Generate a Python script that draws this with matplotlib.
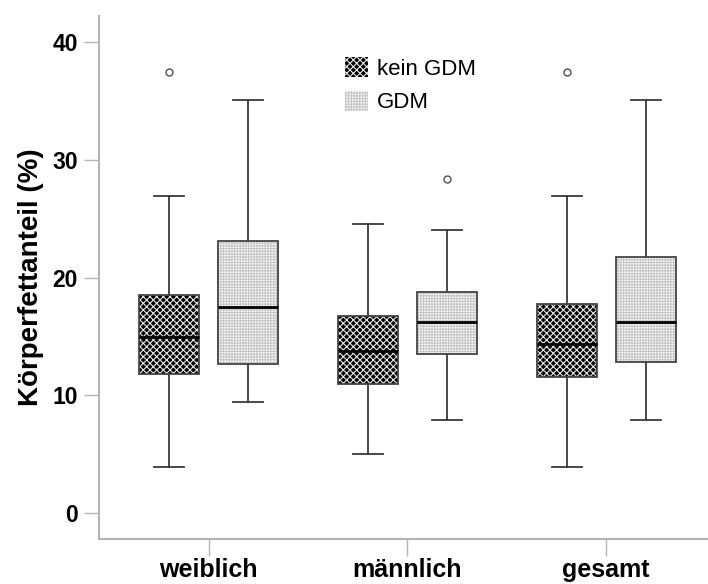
import matplotlib
matplotlib.use("Agg")
import matplotlib.pyplot as plt
from matplotlib.patches import Patch, PathPatch

plt.rcParams['font.family'] = ['Liberation Sans', 'DejaVu Sans']
plt.rcParams['hatch.linewidth'] = 0.8

# --- data ---
groups = ["weiblich", "männlich", "gesamt"]
series = ["kein GDM", "GDM"]

kein_lo = [3.9, 5.0, 3.9]
kein_q1 = [11.85, 11.0, 11.57]
kein_med = [14.97, 13.75, 14.4]
kein_q3 = [18.5, 16.73, 17.8]
kein_hi = [26.93, 24.6, 26.93]
kein_out = [[37.5], [], [37.5]]

gdm_lo = [9.41, 7.94, 7.94]
gdm_q1 = [12.62, 13.55, 12.79]
gdm_med = [17.47, 16.19, 16.22]
gdm_q3 = [23.1, 18.8, 21.77]
gdm_hi = [35.09, 24.07, 35.09]
gdm_out = [[], [28.4], []]

W, H = 708, 584
fig = plt.figure(figsize=(W / 100, H / 100), dpi=100)
ax = fig.add_axes([98.7 / W, 1 - 538.7 / H, (W - 98.7) / W, (538.7 - 16) / H])


def stats(lo, q1, med, q3, hi, out):
    res = []
    for i in range(len(lo)):
        res.append(dict(whislo=lo[i], q1=q1[i], med=med[i], q3=q3[i],
                        whishi=hi[i], fliers=out[i]))
    return res


offset = 0.199
bw = 0.302
styles = [
    dict(face="#000000", hatch="xxxxx", hcol="#e8e8e8"),
    dict(face="white", hatch="++++++", hcol="#c6c6c6"),
]
data = [stats(kein_lo, kein_q1, kein_med, kein_q3, kein_hi, kein_out),
        stats(gdm_lo, gdm_q1, gdm_med, gdm_q3, gdm_hi, gdm_out)]

for k in range(2):
    pos = [i + (-offset if k == 0 else offset) for i in range(len(groups))]
    bp = ax.bxp(data[k], positions=pos, widths=bw, patch_artist=True,
                showfliers=True, capwidths=bw / 2,
                medianprops=dict(color="black", lw=2.0),
                whiskerprops=dict(color="#3a3a3a", lw=1.3),
                capprops=dict(color="#3a3a3a", lw=1.3),
                flierprops=dict(marker="o", markersize=5, markerfacecolor="white",
                                markeredgecolor="#505050", markeredgewidth=1.0))
    for box in bp["boxes"]:
        box.set_facecolor(styles[k]["face"])
        box.set_edgecolor(styles[k]["hcol"])
        box.set_hatch(styles[k]["hatch"])
        box.set_linewidth(0)
        ax.add_patch(PathPatch(box.get_path(), fill=False, edgecolor="#444444",
                               lw=1.3, zorder=box.get_zorder() + 0.1))
    for m in bp["medians"]:
        m.set_zorder(5)

ax.set_xlim(-0.554, 2.513)
ax.set_ylim(-2.19, 42.24)
ax.set_yticks([0, 10, 20, 30, 40])
ax.set_xticks(range(len(groups)))
ax.set_xticklabels(groups, fontsize=18, fontweight="bold")
for t in ax.get_yticklabels():
    t.set_fontsize(16.5)
    t.set_fontweight("bold")
ax.tick_params(axis="y", length=11, width=1.0, color="#b4b4b4", pad=4)
ax.tick_params(axis="x", length=12, width=1.0, color="#b4b4b4", pad=2)
for s in ["top", "right"]:
    ax.spines[s].set_visible(False)
for s in ["left", "bottom"]:
    ax.spines[s].set_color("#b4b4b4")
    ax.spines[s].set_linewidth(1.5)

ax.set_ylabel("Körperfettanteil (%)", fontsize=20, fontweight="bold", labelpad=6)

handles = [Patch(facecolor=styles[k]["face"], edgecolor=styles[k]["hcol"],
                 hatch=styles[k]["hatch"], lw=0) for k in range(2)]
leg = fig.legend(handles, series, loc="upper left",
                 bbox_to_anchor=(345 / W, 1 - 57 / H), frameon=False,
                 fontsize=16, handlelength=1.05, handleheight=1.0,
                 handletextpad=0.4, labelspacing=0.5, borderpad=0,
                 borderaxespad=0)

fig.savefig("out.png", dpi=100)
